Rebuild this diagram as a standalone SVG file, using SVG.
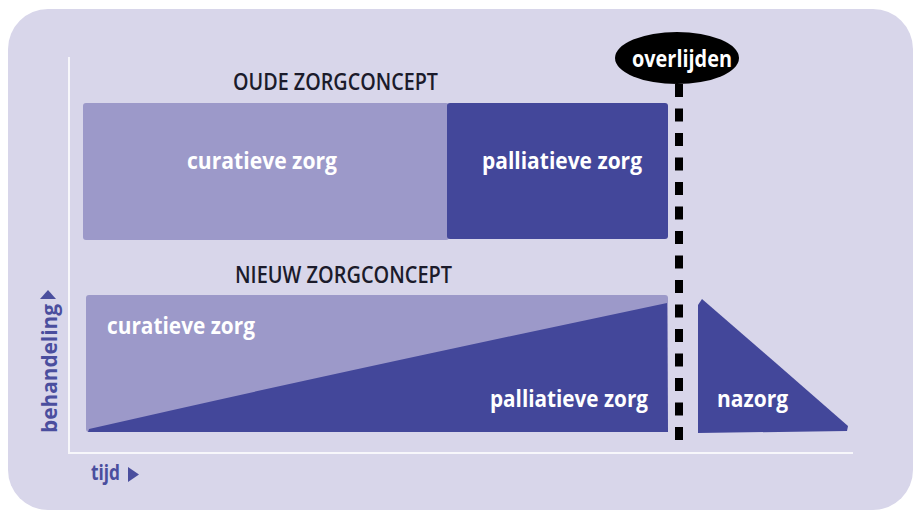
<svg xmlns="http://www.w3.org/2000/svg" width="917" height="512" viewBox="0 0 917 512">
  <style>
    .bg { fill: #d8d6ea; }
    .light { fill: #9c99c9; }
    .dark { fill: #43479a; }
    .axis { stroke: #f7f7fb; stroke-width: 2; fill: none; }
    .head { font-family: "Open Sans", "Liberation Sans", sans-serif; font-weight: 600; font-size: 24px; fill: #1b1b2b; }
    .lbl { font-family: "Open Sans", "Liberation Sans", sans-serif; font-weight: 700; font-size: 23px; fill: #ffffff; }
    .ax { font-family: "Open Sans", "Liberation Sans", sans-serif; font-weight: 700; font-size: 22px; fill: #4a4e9e; }
    .dash { stroke: #000000; stroke-width: 8; stroke-dasharray: 13 11.5; fill: none; }
  </style>
  <rect x="0" y="0" width="917" height="512" fill="#ffffff"/>
  <rect class="bg" x="8" y="9" width="905" height="501" rx="40" ry="40"/>

  <g id="connectors">
    <polyline class="axis" points="69,57 69,453 853,453"/>
    <line class="dash" x1="679" y1="84" x2="679" y2="440"/>
  </g>

  <g id="axis-y">
    <text class="ax" transform="translate(57,433) rotate(-90)" textLength="129" lengthAdjust="spacingAndGlyphs">behandeling</text>
    <polygon fill="#4a4e9e" points="48,290 56,299 40,299"/>
  </g>
  <g id="axis-x">
    <text class="ax" x="91" y="480" textLength="29" lengthAdjust="spacingAndGlyphs">tijd</text>
    <polygon fill="#4a4e9e" points="128,467 139,474.5 128,482"/>
  </g>

  <g id="oude-zorgconcept">
    <text class="head" x="233" y="90" textLength="205" lengthAdjust="spacingAndGlyphs">OUDE ZORGCONCEPT</text>
  </g>
  <g id="oude-curatieve">
    <rect class="light" x="83" y="103" width="366" height="137" rx="3"/>
    <text class="lbl" x="187" y="169" textLength="150" lengthAdjust="spacingAndGlyphs">curatieve zorg</text>
  </g>
  <g id="oude-palliatieve">
    <rect class="dark" x="447" y="103" width="221" height="136" rx="3"/>
    <text class="lbl" x="482" y="169" textLength="160" lengthAdjust="spacingAndGlyphs">palliatieve zorg</text>
  </g>

  <g id="overlijden">
    <ellipse cx="677" cy="58" rx="62" ry="26" fill="#000000"/>
    <text class="lbl" x="632" y="67" textLength="100" lengthAdjust="spacingAndGlyphs">overlijden</text>
  </g>

  <g id="nieuw-zorgconcept">
    <text class="head" x="235" y="283" textLength="217" lengthAdjust="spacingAndGlyphs">NIEUW ZORGCONCEPT</text>
  </g>
  <g id="nieuw-curatieve">
    <rect class="light" x="86" y="295" width="582" height="137" rx="3"/>
    <text class="lbl" x="107" y="334" textLength="148" lengthAdjust="spacingAndGlyphs">curatieve zorg</text>
  </g>
  <g id="nieuw-palliatieve">
    <path class="dark" d="M88,432 L89,429 Q250,392 460,347 L667,303 L668,432 Z"/>
    <text class="lbl" x="490" y="407" textLength="158" lengthAdjust="spacingAndGlyphs">palliatieve zorg</text>
  </g>
  <g id="nazorg">
    <path class="dark" d="M702,299 L777,364 L848,426 L847,431 L698,433 L698,305 Z"/>
    <text class="lbl" x="717" y="407" textLength="71" lengthAdjust="spacingAndGlyphs">nazorg</text>
  </g>
</svg>
